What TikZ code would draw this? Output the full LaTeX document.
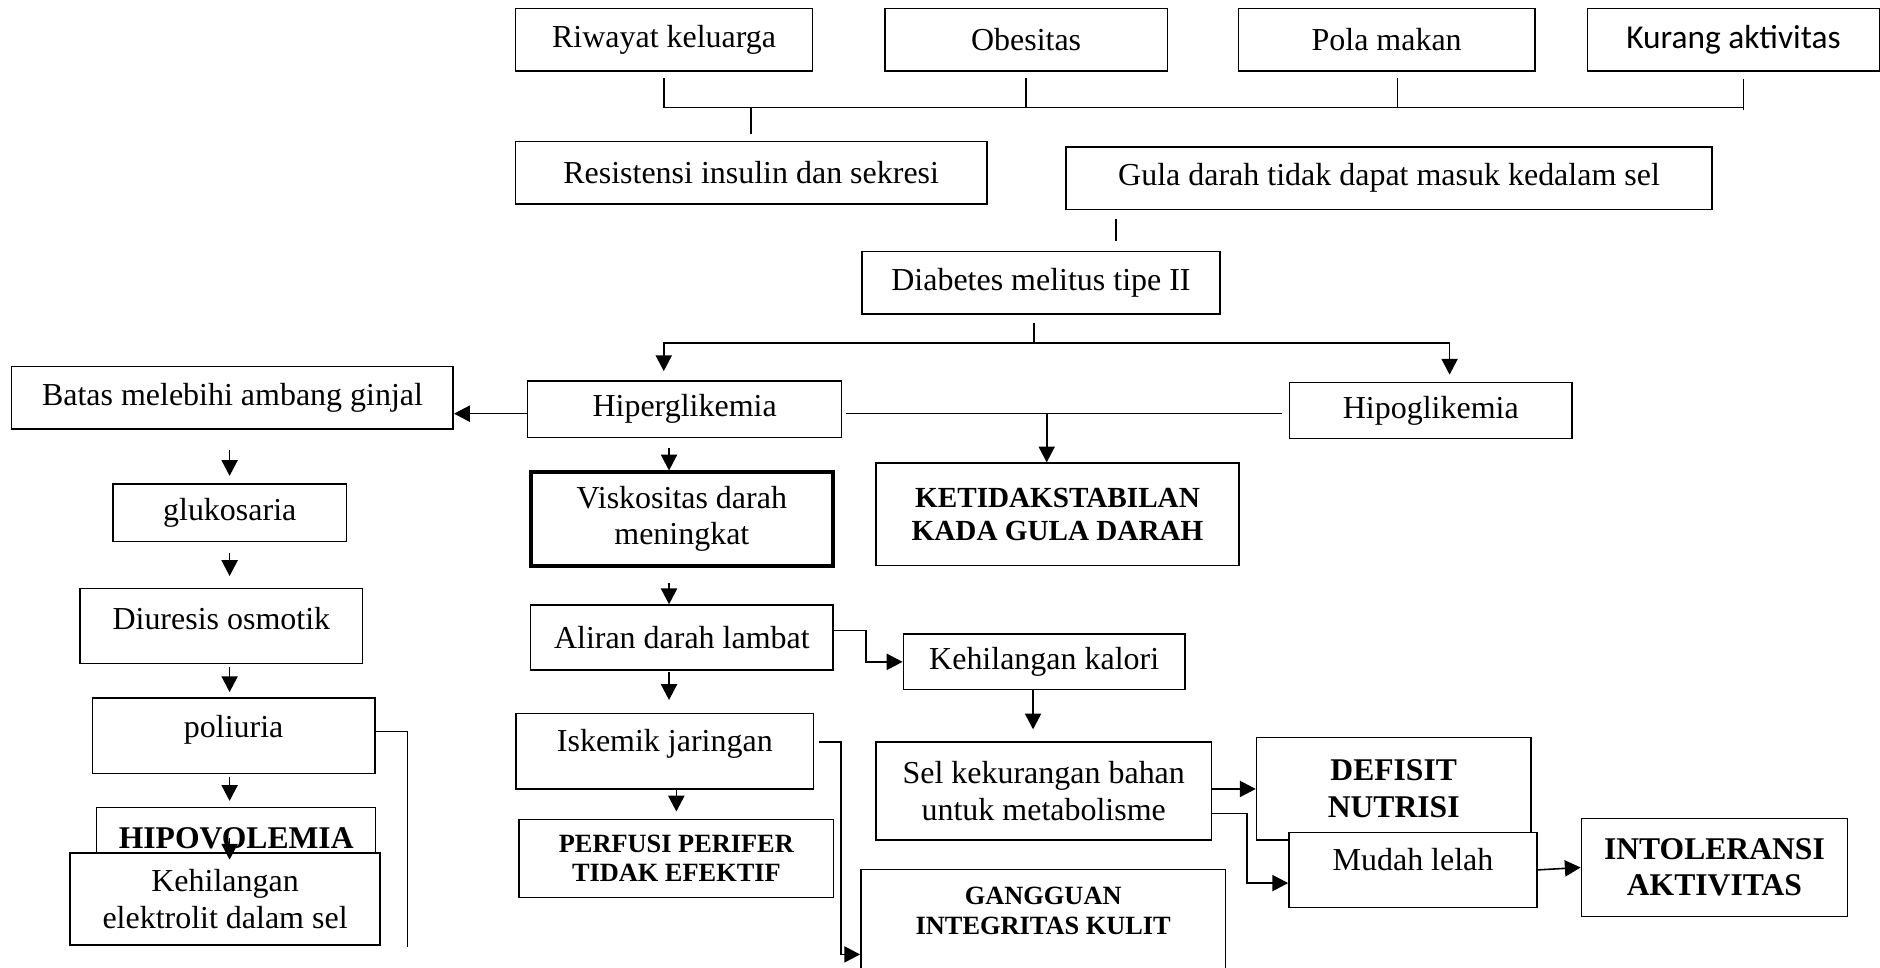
\documentclass[tikz,border=0pt]{standalone}
\usepackage{fontspec}
\setmainfont{Liberation Serif}
\newfontfamily\calibri{Carlito}
\usetikzlibrary{positioning, arrows.meta}

\begin{document}
\begin{tikzpicture}[x=0.01199cm, y=-0.01199cm, line width=0.45pt,
  >={Triangle[length=4.5pt, width=4.6pt]},
  box/.style={draw, fill=white, inner sep=1pt, align=center,
    font=\fontsize{9.1}{10.4}\selectfont},
  sz/.style 2 args={minimum width=#1*0.01199cm, minimum height=#2*0.01199cm},
  dx/.style={font=\bfseries\fontsize{9}{10.4}\selectfont},
  dxk/.style={font=\bfseries\fontsize{8.3}{9.5}\selectfont},
  dxs/.style={font=\bfseries\fontsize{7.5}{8.4}\selectfont}]
  \useasboundingbox (0,0) rectangle (1568,807);

  % faktor risiko
  \node[box, sz={247.7}{52}] (riwayat) at (553.9,33) {Riwayat keluarga};
  \node[box, sz={235.6}{52}] (obesitas) at (855.8,33) {Obesitas};
  \node[box, sz={247}{52}] (pola) at (1156.5,33) {Pola makan};
  \node[box, sz={243.5}{52}, font=\calibri\fontsize{9.5}{11}\selectfont] (kurang) at (1445.75,33) {Kurang aktivitas};
  \node[box, sz={392.9}{52}] (resistensi) at (626.5,144) {Resistensi insulin dan sekresi};
  \node[box, sz={539}{52.3}] (gula) at (1158.5,148.5) {Gula darah tidak dapat masuk kedalam sel};
  \node[box, sz={298.8}{52}] (dm) at (868.2,235.9) {Diabetes melitus tipe II};

  % tengah
  \node[box, sz={368.3}{52}] (batas) at (193.9,331.8) {Batas melebihi ambang ginjal};
  \node[box, sz={262}{47.2}] (hiper) at (571,341.4) {Hiperglikemia};
  \node[box, sz={235.5}{46.7}] (hipo) at (1193.3,342.3) {Hipoglikemia};
  \node[box, dxk, sz={303}{85.5}] (kgd) at (882,429) {KETIDAKSTABILAN\\KADA GULA DARAH};
  \node[box, sz={252.3}{77.8}, line width=1.1pt] (visk) at (568.7,432.9) {Viskositas darah\\meningkat};
  \node[box, sz={252.3}{54.2}] (aliran) at (568.7,531.7) {Aliran darah lambat};
  \node[box, sz={235}{46}] (kalori) at (870.9,552) {Kehilangan kalori};
  \node[box, sz={248.2}{63}, text depth=6pt] (iskemik) at (554.5,626.5) {Iskemik jaringan};
  \node[box, dxs, sz={262}{65.3}] (perfusi) at (564.1,716) {PERFUSI PERIFER\\TIDAK EFEKTIF};
  \node[box, sz={280.1}{82}] (sel) at (870.5,659.6) {Sel kekurangan bahan\\untuk metabolisme};
  \node[box, dxs, sz={304.2}{110}, text depth=14pt] (gangguan) at (870.1,780) {GANGGUAN\\INTEGRITAS KULIT};
  \node[box, dx, sz={228.9}{85.6}] (defisit) at (1162.4,657.8) {DEFISIT\\NUTRISI};
  \node[box, sz={207}{62.5}, text depth=6pt] (mudah) at (1178.5,725.5) {Mudah lelah};
  \node[box, dx, sz={221.8}{82}] (intol) at (1429.9,723.5) {INTOLERANSI\\AKTIVITAS};

  % kiri
  \node[box, sz={195.1}{47.8}] (gluko) at (191.6,427.6) {glukosaria};
  \node[box, sz={235.8}{62.5}, text depth=4pt] (diuresis) at (184.6,522) {Diuresis osmotik};
  \node[box, sz={235.8}{63.1}, text depth=5.4pt] (poliuria) at (194.9,613.5) {poliuria};
  \node[box, dx, sz={232.7}{52}] (hipov) at (197,699.3) {HIPOVOLEMIA};
  \node[box, sz={258.5}{77}] (elek) at (187.7,749.7) {Kehilangan\\elektrolit dalam sel};

  % garis atas
  \coordinate (bar) at (0,89.8);
  \coordinate (kpola) at (1165.7,0);
  \coordinate (kkurang) at (1454,0);
  \draw[shorten <=1.9pt] (riwayat.south) -- (riwayat.south |- bar) -- (kkurang |- bar);
  \draw[shorten <=1.9pt] (obesitas.south) -- (obesitas.south |- bar);
  \draw[shorten <=1.9pt] (pola.south -| kpola) -- (kpola |- bar);
  \draw[shorten <=2.1pt, shorten >=-0.7pt] (kurang.south -| kkurang) -- (kkurang |- bar);
  \draw[shorten >=1.8pt] (resistensi.north |- bar) -- (resistensi.north);
  \coordinate (kgula) at (930.8,0);
  \draw[shorten <=2.5pt, shorten >=2.8pt] (gula.south -| kgula) -- (dm.north -| kgula);

  % cabang DM
  \coordinate (bar2) at (0,286);
  \coordinate (kdm) at (862.5,0);
  \coordinate (khiper) at (553.6,0);
  \coordinate (khipo) at (1209,0);
  \draw[shorten <=2.2pt] (dm.south -| kdm) -- (kdm |- bar2);
  \draw[<->, shorten <=2.6pt, shorten >=2pt] (hiper.north -| khiper) -- (khiper |- bar2)
    -- (khipo |- bar2) -- (hipo.north -| khipo);

  \coordinate (lvl) at (0,345);
  \coordinate (kkgd) at (873,0);
  \draw[->] (hiper.west |- lvl) -- (batas.east |- lvl);
  \draw[shorten <=1pt, shorten >=1.8pt] (hiper.east |- lvl) -- (hipo.west |- lvl);
  \draw[->] (kkgd |- lvl) -- (kgd.north -| kkgd);

  % kolom tengah
  \coordinate (kmid) at (558,0);
  \draw[->, shorten <=2.7pt] (hiper.south -| kmid) -- (visk.north -| kmid);
  \draw[->, shorten <=4.4pt] (visk.south -| kmid) -- (aliran.north -| kmid);
  \draw[->, shorten <=0.4pt, shorten >=3.6pt] (aliran.south -| kmid) -- (iskemik.north -| kmid);
  \draw[->, shorten >=2pt] (iskemik.south -| perfusi.north) -- (perfusi.north);

  \coordinate (kak) at (722.3,526);
  \draw[->] (aliran.east |- kak) -- (kak) |- (kalori.west);
  \coordinate (kks) at (861.6,0);
  \draw[->, shorten >=3.3pt] (kalori.south -| kks) -- (sel.north -| kks);

  \coordinate (kig) at (701.2,618.6);
  \coordinate (kig2) at (701.2,796);
  \draw[->, shorten <=1.4pt] (iskemik.east |- kig) -- (kig) -- (kig2) -- (gangguan.west |- kig2);

  \coordinate (ksd) at (0,658);
  \draw[->] (sel.east |- ksd) -- (defisit.west |- ksd);
  \coordinate (ksm) at (1039.8,678.4);
  \coordinate (ksm2) at (1039.8,736.5);
  \draw[->] (sel.east |- ksm) -- (ksm) -- (ksm2) -- (mudah.west |- ksm2);
  \draw[->] (mudah.east) -- (intol.west);

  % kolom kiri
  \coordinate (kleft) at (191.5,0);
  \draw[->, shorten <=5.7pt, shorten >=2.1pt] (batas.south -| kleft) -- (gluko.north -| kleft);
  \draw[->, shorten <=3.1pt, shorten >=3.3pt] (gluko.south -| kleft) -- (diuresis.north -| kleft);
  \draw[->, shorten <=0.8pt, shorten >=1.4pt] (diuresis.south -| kleft) -- (poliuria.north -| kleft);
  \draw[->, shorten <=0.7pt, shorten >=1.6pt] (poliuria.south -| kleft) -- (hipov.north -| kleft);
  \draw[->, shorten >=-2.2pt] (hipov.center -| kleft) -- (elek.north -| kleft);

  \coordinate (kpe1) at (340,610.2);
  \coordinate (kpe2) at (340,789.6);
  \draw (poliuria.east |- kpe1) -- (kpe1) -- (kpe2);
\end{tikzpicture}
\end{document}
